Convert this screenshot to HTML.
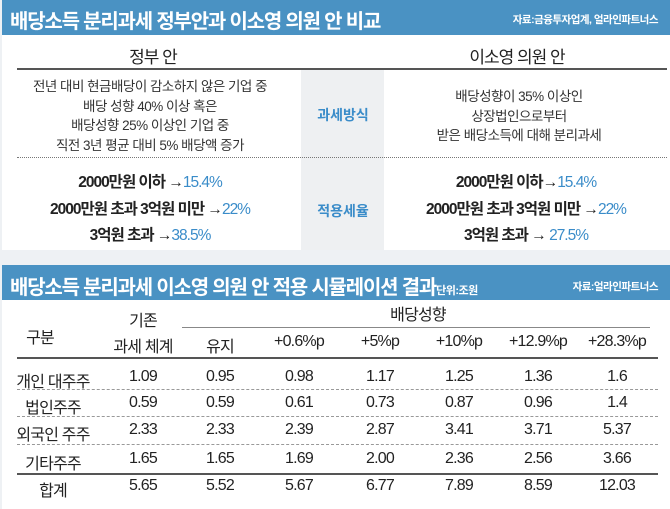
<!DOCTYPE html>
<html><head><meta charset="utf-8"><style>
body{margin:0;width:670px;height:509px;background:#eef1f4;position:relative;overflow:hidden;font-family:"Liberation Sans","Noto Sans CJK KR",sans-serif;color:#222}
.a{position:absolute;white-space:nowrap}
.c{transform:translateX(-50%)}
.bar{position:absolute;left:2px;width:668px;background:#4a92c3}
.t{color:#fff;font-weight:bold;font-size:20px;letter-spacing:-1.2px}
.s{color:#fff;font-weight:bold;font-size:10.5px;letter-spacing:-0.5px}
.body{position:absolute;background:#fff}
.bl{color:#3a8cc9}
.r{font-size:15.5px;font-weight:bold;letter-spacing:-1px;color:#222}
.n{font-size:16px;letter-spacing:-0.8px}
.d{font-size:13.5px;letter-spacing:-0.5px;color:#333}
</style></head><body>
<div class="bar" style="top:0;height:35px"></div>
<div class="a t" style="left:10px;top:5px">배당소득 분리과세 정부안과 이소영 의원 안 비교</div>
<div class="a s" style="right:12px;top:12px">자료:금융투자업계, 얼라인파트너스</div>
<div class="body" style="left:2px;top:35px;width:668px;height:215px"></div>
<div class="a" style="left:301px;top:70px;width:83px;height:180px;background:#eef0f2"></div>
<div class="a" style="left:17px;top:68px;width:650px;height:2px;background:#555"></div>
<div class="a" style="left:17px;top:157px;width:650px;border-top:1.5px dotted #777"></div>
<div class="a c r" style="left:153px;top:43px;font-weight:normal;font-size:17px">정부 안</div>
<div class="a c r" style="left:517px;top:43px;font-weight:normal;font-size:17px">이소영 의원 안</div>
<div class="a c d" style="left:150px;top:77px;text-align:center;line-height:19.5px">전년 대비 현금배당이 감소하지 않은 기업 중<br>배당 성향 40% 이상 혹은<br>배당성향 25% 이상인 기업 중<br>직전 3년 평균 대비 5% 배당액 증가</div>
<div class="a c d" style="left:519px;top:87px;text-align:center;line-height:19.5px">배당성향이 35% 이상인<br>상장법인으로부터<br>받은 배당소득에 대해 분리과세</div>
<div class="a c bl" style="left:343px;top:105px;font-weight:bold;font-size:14px">과세방식</div>
<div class="a c bl" style="left:343px;top:201px;font-weight:bold;font-size:14px">적용세율</div>
<div class="a c r" style="left:150px;top:170px">2000만원 이하 →<span class="bl" style="font-weight:normal">15.4%</span></div>
<div class="a c r" style="left:150px;top:197px">2000만원 초과 3억원 미만 →<span class="bl" style="font-weight:normal">22%</span></div>
<div class="a c r" style="left:150px;top:223px">3억원 초과 →<span class="bl" style="font-weight:normal">38.5%</span></div>
<div class="a c r" style="left:526px;top:170px">2000만원 이하→<span class="bl" style="font-weight:normal">15.4%</span></div>
<div class="a c r" style="left:526px;top:197px">2000만원 초과 3억원 미만 →<span class="bl" style="font-weight:normal">22%</span></div>
<div class="a c r" style="left:526px;top:223px">3억원 초과 → <span class="bl" style="font-weight:normal">27.5%</span></div>

<div class="bar" style="top:265px;height:35px"></div>
<div class="a t" style="left:10px;top:271px">배당소득 분리과세 이소영 의원 안 적용 시뮬레이션 결과<span style="font-size:11px;letter-spacing:-0.5px">단위:조원</span></div>
<div class="a s" style="right:12px;top:279px">자료:얼라인파트너스</div>
<div class="body" style="left:2px;top:300px;width:668px;height:209px"></div>
<div class="a c n" style="left:40px;top:324px">구분</div>
<div class="a c n" style="left:143px;top:307px">기존</div>
<div class="a c n" style="left:143px;top:333px">과세 체계</div>
<div class="a c n" style="left:418px;top:301px">배당성향</div>
<div class="a" style="left:182px;top:327px;width:468px;height:1px;background:#888"></div>
<div class="a" style="left:17px;top:357px;width:641px;height:2px;background:#555"></div>
<div class="a" style="left:17px;top:473px;width:641px;height:2px;background:#555"></div>
<div class="a" style="left:17px;top:389px;width:641px;border-top:1px dashed #999"></div>
<div class="a" style="left:17px;top:416px;width:641px;border-top:1px dashed #999"></div>
<div class="a" style="left:17px;top:444px;width:641px;border-top:1px dashed #999"></div>
<div id="tb"></div>
<script>
var xs=[53,143,220,299,380,459,538,617];
var rows=[[333,["","","유지","+0.6%p","+5%p","+10%p","+12.9%p","+28.3%p"]],
[368,["개인 대주주","1.09","0.95","0.98","1.17","1.25","1.36","1.6"]],
[394,["법인주주","0.59","0.59","0.61","0.73","0.87","0.96","1.4"]],
[421,["외국인 주주","2.33","2.33","2.39","2.87","3.41","3.71","5.37"]],
[450,["기타주주","1.65","1.65","1.69","2.00","2.36","2.56","3.66"]],
[477,["합계","5.65","5.52","5.67","6.77","7.89","8.59","12.03"]]];
var h="";rows.forEach(function(r){r[1].forEach(function(t,i){if(t)h+='<div class="a c n" style="left:'+xs[i]+'px;top:'+r[0]+'px">'+t+'</div>';});});
document.getElementById("tb").innerHTML=h;
</script>
</body></html>
